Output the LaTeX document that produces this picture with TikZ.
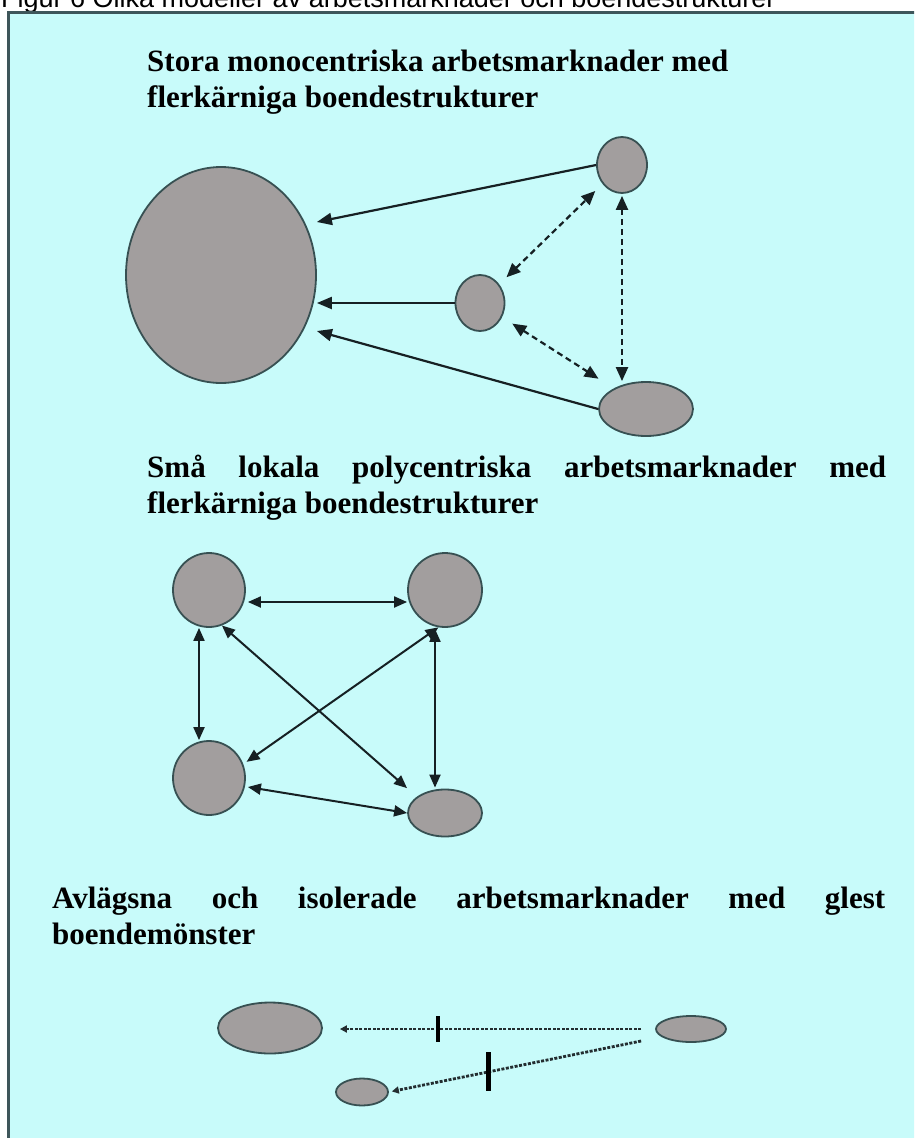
\documentclass[tikz,border=0pt]{standalone}
\usepackage{fontspec}
\setmainfont{Liberation Serif}
\newfontfamily\captionsans{Liberation Sans}
\usetikzlibrary{shapes.geometric,arrows.meta,calc}
\definecolor{panel}{RGB}{200,251,250}
\definecolor{frameline}{RGB}{62,86,90}
\definecolor{blobfill}{RGB}{162,158,158}
\definecolor{blobedge}{RGB}{55,80,82}
\definecolor{ink}{RGB}{22,32,35}
\definecolor{dotink}{RGB}{35,45,48}

\begin{document}
\begin{tikzpicture}[x=1pt,y=-1pt,
  blob/.style={ellipse, draw=blobedge, fill=blobfill, line width=1.8pt, inner sep=0pt},
  heading/.style={anchor=base west, inner sep=0pt, text=black,
    font=\bfseries\fontsize{31}{36}\selectfont},
  flow/.style={draw=ink, line width=2.2pt, -{Triangle[length=15pt,width=12pt]}},
  link/.style={draw=ink, line width=2pt,
    {Triangle[length=13pt,width=11pt]}-{Triangle[length=13pt,width=11pt]}},
  dashlink/.style={draw=ink, line width=2.2pt, dash pattern=on 6pt off 4pt,
    {Triangle[length=14pt,width=12pt]}-{Triangle[length=14pt,width=12pt]}},
  weak/.style={draw=dotink, line width=2.8pt, dash pattern=on 3pt off 1.5pt,
    -{Triangle[length=7pt,width=7pt]}},
  barrier/.style={fill=black, draw=none, inner sep=0pt, minimum width=4.5pt}
]
\useasboundingbox (0,0) rectangle (914,1138);
\clip (0,0) rectangle (914,1138);
\fill[white] (0,0) rectangle (914,1138);

% caption above the panel
\node[anchor=base west, inner sep=0pt, font=\captionsans\fontsize{27}{30}\selectfont]
  (caption) at (1,7.5) {Figur 6 Olika modeller av arbetsmarknader och boendestrukturer};

% panel
\draw[frameline, line width=3pt, fill=panel] (8.5,12.5) rectangle (950,1170);

% ---------- model 1: monocentric ----------
\node[heading] (h1a) at (147,71) {Stora monocentriska arbetsmarknader med};
\node[heading] (h1b) at (147,107) {flerkärniga boendestrukturer};

\node[blob, minimum width=190pt, minimum height=216pt] (big) at (221,275) {};
\node[blob, minimum width=50pt, minimum height=56pt] (tp) at (622,165) {};
\node[blob, minimum width=49pt, minimum height=56pt] (mid) at (480,303) {};
\node[blob, minimum width=94pt, minimum height=54pt] (bot) at (646,409) {};

\draw[flow] (tp.west) -- ($(big.east)+(0,-53)$);
\draw[flow] (mid.west) -- (mid.west -| big.east);
\draw[flow] (bot.west) -- ($(big.east)+(0,56)$);

\draw[dashlink, shorten <=10pt, shorten >=10pt] (mid) -- (tp);
\draw[dashlink, shorten <=12pt, shorten >=18pt] (mid) -- (bot);
\draw[dashlink, shorten <=2pt] (tp.south) -- (tp.south |- bot.north);

% ---------- model 2: polycentric ----------
\node[heading] (h2a) at (147,477)
  {\makebox[739pt][s]{Små\hfill lokala\hfill polycentriska\hfill arbetsmarknader\hfill med}};
\node[heading] (h2b) at (147,513) {flerkärniga boendestrukturer};

\node[blob, minimum width=72pt, minimum height=74pt] (tl) at (209,590) {};
\node[blob, minimum width=74pt, minimum height=74pt] (tr) at (445,590) {};
\node[blob, minimum width=72pt, minimum height=74pt] (bl) at (209,778) {};
\node[blob, minimum width=74pt, minimum height=47pt] (br) at (445,813) {};

\draw[link] ($(tl.east)+(2,12)$) -- ($(tr.west)+(0,12)$);
\draw[link] ($(tl.south)+(-10,0)$) -- ($(bl.north)+(-10,0)$);
\draw[link] ($(tr.south)+(-10,1)$) -- ($(br.north)+(-10,-1)$);
\draw[link] ($(bl.east)+(2,9)$) -- (br.west);
\draw[link, shorten >=13pt] (tl.-70) -- (br.150);
\draw[link, shorten >=4pt] (tr.-100) -- (bl.22);

% ---------- model 3: remote and isolated ----------
\node[heading] (h3a) at (52,908)
  {\makebox[833pt][s]{Avlägsna\hfill och\hfill isolerade\hfill arbetsmarknader\hfill med\hfill glest}};
\node[heading] (h3b) at (52,944) {boendemönster};

\node[blob, minimum width=104pt, minimum height=51pt] (l) at (270,1028) {};
\node[blob, minimum width=70pt, minimum height=26pt] (r) at (691,1029) {};
\node[blob, minimum width=52pt, minimum height=27pt] (s) at (362,1092) {};

\draw[weak, shorten <=14pt, shorten >=17pt] (r.west) -- (r.west -| l.east)
  node[barrier, pos=0.653, minimum height=26pt] (cut1) {};
\draw[weak, shorten >=3pt] ($(r.west)+(-14,12)$) -- (s.east)
  node[barrier, pos=0.606, minimum height=39pt] (cut2) {};
\end{tikzpicture}
\end{document}
